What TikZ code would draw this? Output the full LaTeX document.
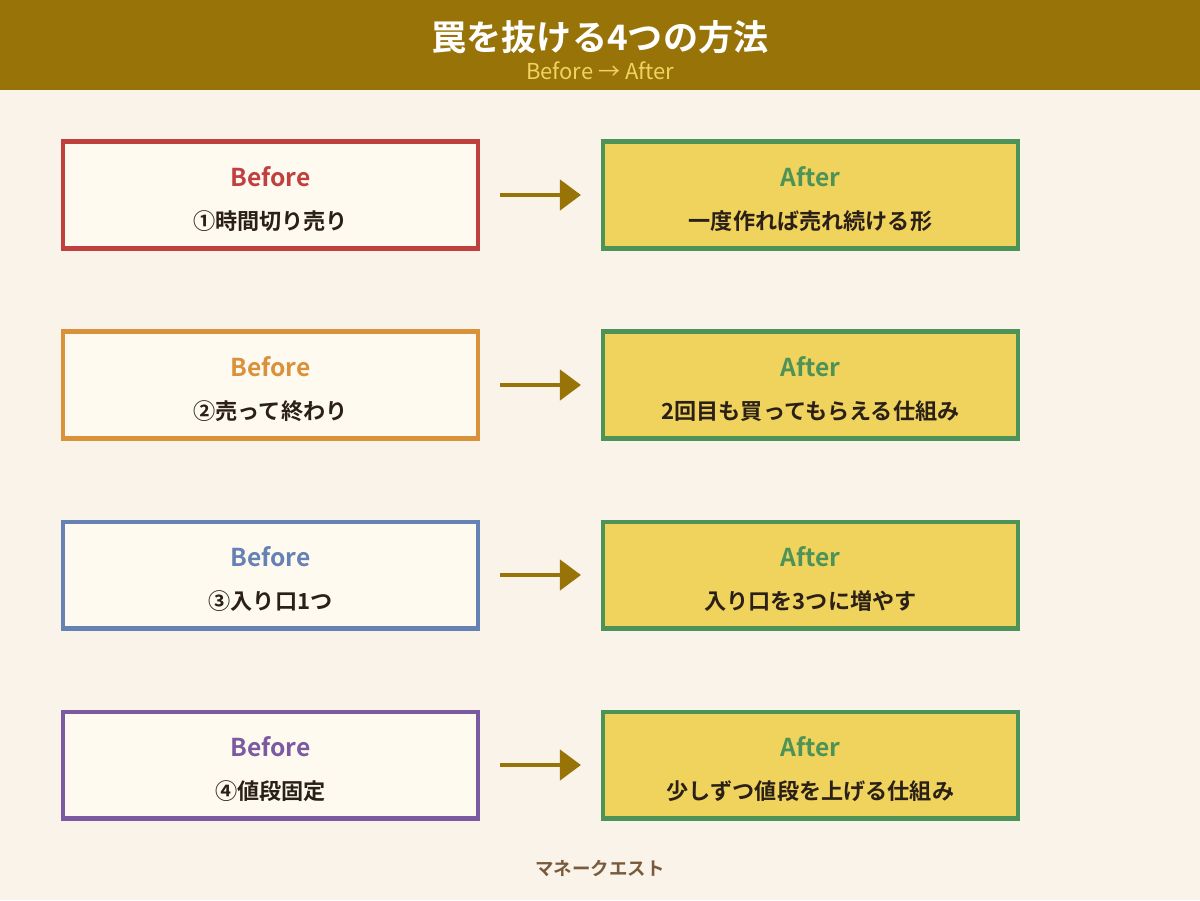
\documentclass[tikz,border=0pt]{standalone}
\usepackage{fontspec}
\setmainfont{Noto Sans CJK JP}[BoldFont={* Bold}]
\usetikzlibrary{arrows.meta}
\definecolor{hdr}{HTML}{977308}
\definecolor{bg}{HTML}{F9F3EA}
\definecolor{sub}{HTML}{F3D35E}
\definecolor{lfill}{HTML}{FFFAF0}
\definecolor{rfill}{HTML}{F0D35C}
\definecolor{grn}{HTML}{4D9358}
\definecolor{txt}{HTML}{2A2018}
\definecolor{c1}{HTML}{C0403F}
\definecolor{c2}{HTML}{D9913A}
\definecolor{c3}{HTML}{6681B4}
\definecolor{c4}{HTML}{7A5AA0}
\definecolor{foot}{HTML}{7A5A3A}
\begin{document}
\begin{tikzpicture}[x=0.02cm,y=-0.02cm,
 box/.style={draw,line width=2.3pt,minimum width=8.32cm,minimum height=2.14cm,inner sep=0pt},
 lbox/.style={box,fill=lfill},
 rbox/.style={box,fill=rfill,draw=grn},
 head/.style={font=\bfseries\fontsize{14}{16}\selectfont},
 body/.style={font=\bfseries\fontsize{12.6}{14}\selectfont,text=txt},
 arr/.style={hdr,line width=2.8pt,-{Triangle[length=12pt,width=17pt]}}]
\fill[bg] (0,0) rectangle (1200,900);
\fill[hdr] (0,0) rectangle (1200,90);
\node[text=white,font=\bfseries\fontsize{20}{22}\selectfont] (t) at (600,37) {罠を抜ける4つの方法};
\node[text=sub,font=\fontsize{12.5}{14}\selectfont] (s) at (600,71) {Before → After};
\foreach \i/\c/\b/\a in {0/c1/①時間切り売り/一度作れば売れ続ける形,
 1/c2/②売って終わり/2回目も買ってもらえる仕組み,
 2/c3/③入り口1つ/入り口を3つに増やす,
 3/c4/④値段固定/少しずつ値段を上げる仕組み}{
 \pgfmathsetmacro\y{195+190*\i}
 \node[lbox,draw=\c] (L\i) at (270.5,\y) {};
 \node[rbox] (R\i) at (810.5,\y) {};
 \node[head,text=\c] (LH\i) at (270.5,\y-18) {Before};
 \node[body] (LB\i) at (270.5,\y+26) {\b};
 \node[head,text=grn] (RH\i) at (810.5,\y-18) {After};
 \node[body] (RB\i) at (810.5,\y+26) {\a};
 \coordinate (A\i) at (500,\y);
 \coordinate (B\i) at (581,\y);
 \draw[arr] (A\i) -- (B\i);
}
\node[text=foot,font=\bfseries\fontsize{10.5}{12}\selectfont] (f) at (600,868) {マネークエスト};
\end{tikzpicture}
\end{document}
